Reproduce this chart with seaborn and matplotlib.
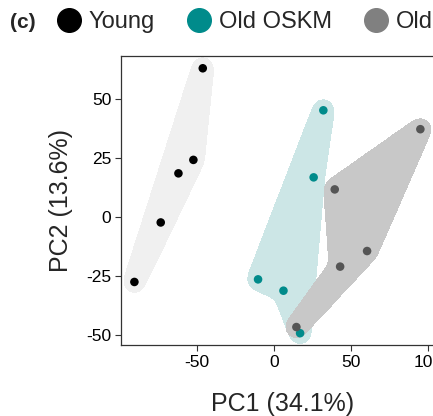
import numpy as np
import pandas as pd
import matplotlib
matplotlib.use("Agg")
import matplotlib.pyplot as plt
import seaborn as sns
from matplotlib.lines import Line2D
from matplotlib.path import Path

# PCA scores (listed in hull outline order)
young_pc1 = [-46.3, -90.7, -73.6, -62.1, -52.4]
young_pc2 = [63.0, -27.5, -2.3, 18.5, 24.2]
oskm_pc1 = [32.0, -10.4, 6.1, 16.9, 25.7]
oskm_pc2 = [45.2, -26.4, -31.2, -49.2, 16.8]
old_pc1 = [95.0, 39.4, 42.9, 14.5, 60.4]
old_pc2 = [37.2, 11.7, -21.0, -46.6, -14.4]

groups = ["Young", "Old OSKM", "Old"]
point_colors = {"Young": "#000000", "Old OSKM": "#008B8B", "Old": "#555555"}
legend_colors = {"Young": "#000000", "Old OSKM": "#008B8B", "Old": "#808080"}
hull_colors = {"Young": "#F0F0F0", "Old OSKM": "#CCE6E6", "Old": "#C8C8C8"}

df = pd.DataFrame({
    "PC1": young_pc1 + oskm_pc1 + old_pc1,
    "PC2": young_pc2 + oskm_pc2 + old_pc2,
    "group": ["Young"] * 5 + ["Old OSKM"] * 5 + ["Old"] * 5,
})

sns.set_theme(style="ticks")
plt.rcParams["font.family"] = ["Liberation Sans", "DejaVu Sans"]
plt.rcParams["axes.unicode_minus"] = False

fig = plt.figure(figsize=(4.33, 4.16), dpi=100)
ax = fig.add_axes([121 / 433, 71 / 416, 324 / 433, 289 / 416])
ax.set_xlim(-99.4, 111.0)
ax.set_ylim(-54.2, 68.2)

# pixel-space grid for the smooth hull outlines
gx = np.linspace(-99.4, 111.0, 420)
gy = np.linspace(-54.2, 68.2, 360)
GX, GY = np.meshgrid(gx, gy)
grid_px = ax.transData.transform(np.column_stack([GX.ravel(), GY.ravel()]))


def convex_hull(p):
    p = sorted(map(tuple, p))
    def cross(o, a, b):
        return (a[0] - o[0]) * (b[1] - o[1]) - (a[1] - o[1]) * (b[0] - o[0])
    lo, up = [], []
    for q in p:
        while len(lo) >= 2 and cross(lo[-2], lo[-1], q) <= 0:
            lo.pop()
        lo.append(q)
    for q in reversed(p):
        while len(up) >= 2 and cross(up[-2], up[-1], q) <= 0:
            up.pop()
        up.append(q)
    return np.array(lo[:-1] + up[:-1])


def seg_dist(p, a, b):
    ab = b - a
    t = np.clip(((p - a) @ ab) / (ab @ ab), 0, 1)
    return np.hypot(*(p - (a + t[:, None] * ab)).T)


def blur(z, sigma):
    k = np.arange(-3 * sigma, 3 * sigma + 1)
    k = np.exp(-k ** 2 / (2 * sigma ** 2))
    k /= k.sum()
    z = np.apply_along_axis(lambda r: np.convolve(r, k, mode="same"), 1, z)
    return np.apply_along_axis(lambda c: np.convolve(c, k, mode="same"), 0, z)


for g in groups:
    sub = df[df.group == g]
    poly = ax.transData.transform(sub[["PC1", "PC2"]].values)
    if g == "Young":
        poly = convex_hull(poly)
    inside = Path(poly).contains_points(grid_px)
    d = np.min([seg_dist(grid_px, poly[i], poly[(i + 1) % len(poly)]) for i in range(len(poly))], axis=0)
    d[inside] = 0
    mask = (d <= 11).astype(float).reshape(GX.shape)
    ax.contourf(GX, GY, blur(mask, 5), levels=[0.5, 2], colors=[hull_colors[g]], zorder=0)

sns.scatterplot(data=df, x="PC1", y="PC2", hue="group", palette=point_colors,
                s=38, edgecolor="none", legend=False, ax=ax, zorder=3)

ax.set_xticks([-50, 0, 50, 100])
ax.set_yticks([-50, -25, 0, 25, 50])
ax.set_xlabel("PC1 (34.1%)", fontsize=18, labelpad=16)
ax.set_ylabel("PC2 (13.6%)", fontsize=18, labelpad=9.5)
ax.tick_params(labelsize=12.5, length=4, width=0.8, pad=3, color="#333333", labelcolor="black")
for sp in ax.spines.values():
    sp.set_color("#333333")
    sp.set_linewidth(0.9)

handles = [Line2D([], [], marker="o", ls="", markersize=17, color=legend_colors[g]) for g in groups]
fig.legend(handles, groups, loc="center left", bbox_to_anchor=(57 / 433, 1 - 22 / 416),
           ncol=3, frameon=False, fontsize=17, handletextpad=0.35, columnspacing=1.35,
           handlelength=1.0, borderaxespad=0, borderpad=0)
fig.text(10 / 433, 1 - 22 / 416, "(c)", fontsize=15, fontweight="bold", va="center", ha="left")

fig.savefig("out.png", dpi=100)
